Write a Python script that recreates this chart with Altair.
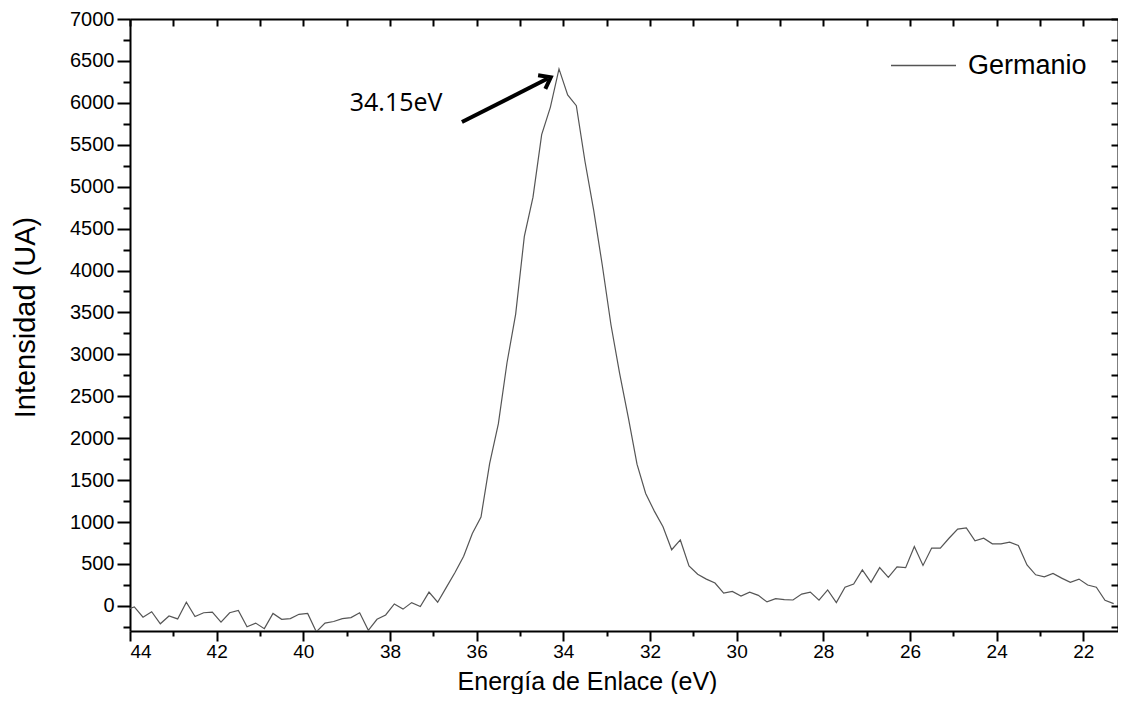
import altair as alt
import pandas as pd

# Binding energy (eV) and intensity (a.u.)
energia = [
    44.1, 43.9, 43.7, 43.5, 43.3, 43.1, 42.9, 42.7, 42.5, 42.3,
    42.1, 41.9, 41.7, 41.5, 41.3, 41.1, 40.9, 40.7, 40.5, 40.3,
    40.1, 39.9, 39.7, 39.5, 39.3, 39.1, 38.9, 38.7, 38.5, 38.3,
    38.1, 37.9, 37.7, 37.5, 37.3, 37.1, 36.9, 36.7, 36.5, 36.3,
    36.1, 35.9, 35.7, 35.5, 35.3, 35.1, 34.9, 34.7, 34.5, 34.3,
    34.1, 33.9, 33.7, 33.5, 33.3, 33.1, 32.9, 32.7, 32.5, 32.3,
    32.1, 31.9, 31.7, 31.5, 31.3, 31.1, 30.9, 30.7, 30.5, 30.3,
    30.1, 29.9, 29.7, 29.5, 29.3, 29.1, 28.9, 28.7, 28.5, 28.3,
    28.1, 27.9, 27.7, 27.5, 27.3, 27.1, 26.9, 26.7, 26.5, 26.3,
    26.1, 25.9, 25.7, 25.5, 25.3, 25.1, 24.9, 24.7, 24.5, 24.3,
    24.1, 23.9, 23.7, 23.5, 23.3, 23.1, 22.9, 22.7, 22.5, 22.3,
    22.1, 21.9, 21.7, 21.5, 21.3,
]
intensidad = [
    -50, -12, -136, -70, -214, -121, -156, 43, -128, -82,
    -74, -195, -82, -55, -249, -206, -272, -90, -160, -152,
    -101, -90, -310, -206, -187, -152, -140, -82, -292, -160,
    -109, 23, -39, 39, -8, 164, 43, 220, 397, 592,
    864, 1060, 1700, 2170, 2900, 3480, 4407, 4875, 5620, 5946,
    6405, 6095, 5966, 5300, 4720, 4060, 3350, 2770, 2246, 1690,
    1340, 1130, 943, 669, 786, 475, 377, 319, 272, 152,
    172, 117, 164, 125, 47, 85, 74, 70, 140, 164,
    67, 190, 39, 222, 261, 429, 280, 456, 339, 464,
    456, 709, 482, 689, 689, 806, 915, 931, 775, 806,
    740, 740, 759, 720, 487, 370, 347, 386, 331, 280,
    319, 249, 222, 67, 27,
]
serie = "Germanio"

x_ticks = list(range(22, 45))
y_ticks = list(range(-250, 7001, 250))

# annotation (label and arrow) in data units
nota_texto = ["34.15eV"]
nota_e = [37.86]
nota_i = [5993]
flecha_e = [36.34]
flecha_i = [5771]
flecha_e2 = [34.36]
flecha_i2 = [6290]
punta_e = [34.29]
punta_i = [6305]

df = pd.DataFrame({"energia": energia, "intensidad": intensidad, "serie": [serie] * len(energia)})
df_nota = pd.DataFrame({"e": nota_e, "i": nota_i, "t": nota_texto})
df_flecha = pd.DataFrame({"e": flecha_e, "i": flecha_i, "e2": flecha_e2, "i2": flecha_i2})
df_punta = pd.DataFrame({"e": punta_e, "i": punta_i})

FONT = "Liberation Sans"
xs = alt.Scale(domain=[21.2, 44], reverse=True, nice=False, zero=False)
ys = alt.Scale(domain=[-300, 7000], nice=False, zero=False)

x_axis = alt.Axis(
    orient="bottom", values=x_ticks, title="Energía de Enlace (eV)",
    labelExpr="datum.value % 2 === 0 ? datum.label : ''", labelOverlap=False,
    tickSize={"condition": {"test": "datum.value % 2 === 0", "value": 10}, "value": 5},
    tickWidth=2, domainWidth=2, tickColor="black", domainColor="black",
    labelFont=FONT, labelFontSize=19, labelColor="black", labelPadding=1,
    titleFont=FONT, titleFontSize=25, titleFontWeight="normal", titleColor="black",
    titleX=457, titleY=58, titleBaseline="alphabetic", titleAlign="center",
    grid=False,
)
y_axis = alt.Axis(
    orient="left", values=y_ticks, title="Intensidad (UA)", format="d",
    labelExpr="datum.value % 500 === 0 ? datum.label : ''", labelOverlap=False,
    tickSize={"condition": {"test": "datum.value % 500 === 0", "value": 13}, "value": 7},
    tickWidth=2, domainWidth=2, tickColor="black", domainColor="black",
    labelFont=FONT, labelFontSize=20, labelColor="black", labelPadding=3,
    titleFont=FONT, titleFontSize=29, titleFontWeight="normal", titleColor="black",
    titleX=-105, titleY=298, titleAngle=270, titleBaseline="middle", titleAlign="center",
    grid=False,
)
top_axis = alt.Axis(
    orient="top", values=x_ticks, labels=False, title="",
    tickSize={"expr": "-7"}, tickWidth=2, domainWidth=2,
    tickColor="black", domainColor="black", grid=False,
)
right_axis = alt.Axis(
    orient="right", values=y_ticks, labels=False, title="",
    tickSize={"expr": "-7"}, tickWidth=2, domainWidth=2,
    tickColor="black", domainColor="black", grid=False,
)

linea = alt.Chart(df).mark_line(strokeWidth=1.2, clip=True).encode(
    x=alt.X("energia:Q", scale=xs, axis=x_axis),
    y=alt.Y("intensidad:Q", scale=ys, axis=y_axis),
    color=alt.Color(
        "serie:N",
        scale=alt.Scale(domain=[serie], range=["#555555"]),
        legend=alt.Legend(
            title=None, orient="none", legendX=760, legendY=13,
            symbolType="stroke", symbolSize=4225, symbolStrokeWidth=1.5,
            labelFont=FONT, labelFontSize=27, labelColor="black", labelOffset=11,
            padding=0,
        ),
    ),
)

marco = alt.Chart(df).mark_line(opacity=0).encode(
    x=alt.X("energia:Q", scale=xs, axis=top_axis),
    y=alt.Y("intensidad:Q", scale=ys, axis=right_axis),
)

texto = alt.Chart(df_nota).mark_text(
    font="Open Sans", fontSize=25, color="black", align="center", baseline="middle"
).encode(
    x=alt.X("e:Q", scale=xs, axis=None),
    y=alt.Y("i:Q", scale=ys, axis=None),
    text="t:N",
)

flecha = alt.Chart(df_flecha).mark_rule(strokeWidth=4, color="black").encode(
    x=alt.X("e:Q", scale=xs, axis=None),
    y=alt.Y("i:Q", scale=ys, axis=None),
    x2="e2:Q",
    y2="i2:Q",
)

punta = alt.Chart(df_punta).mark_point(
    shape="M-1,-0.75L0,0L-1,0.75", filled=False, strokeWidth=4, color="black",
    size=420, angle=332, opacity=1,
).encode(
    x=alt.X("e:Q", scale=xs, axis=None),
    y=alt.Y("i:Q", scale=ys, axis=None),
)

chart = (
    alt.layer(linea, marco, texto, flecha, punta)
    .resolve_axis(x="independent", y="independent")
    .properties(
        width=988, height=612,
        padding={"left": 122, "top": 11, "right": 0, "bottom": 63},
        autosize=alt.AutoSizeParams(type="none"),
        background="white",
    )
    .configure_view(stroke=None)
)

chart.save("out.html", embed_options={"renderer": "svg", "actions": False})
